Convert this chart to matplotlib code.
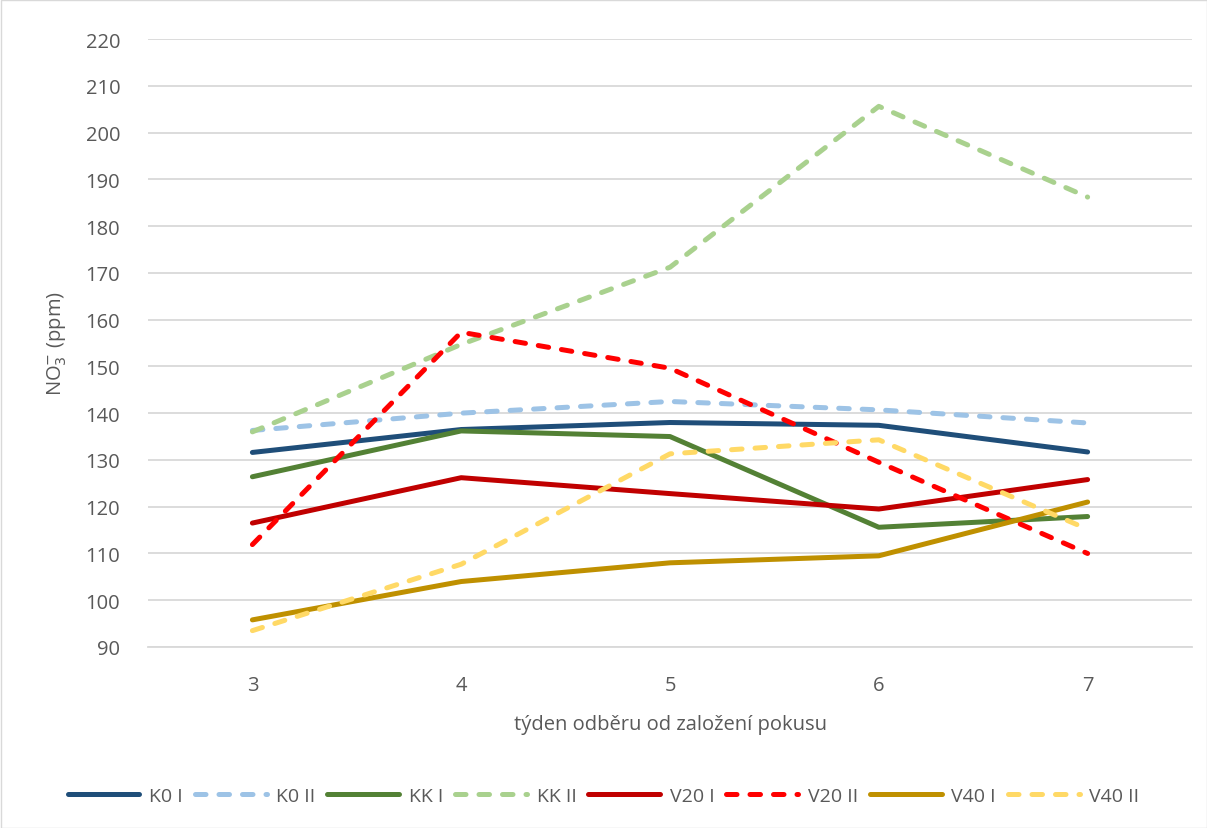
import matplotlib
matplotlib.use("Agg")
import matplotlib.pyplot as plt
from matplotlib.patches import Rectangle

weeks = [3, 4, 5, 6, 7]
k0_i   = [131.6, 136.5, 138.0, 137.4, 131.7]
k0_ii  = [136.3, 140.0, 142.5, 140.7, 137.9]
kk_i   = [126.4, 136.2, 135.0, 115.6, 117.9]
kk_ii  = [136.0, 154.7, 171.2, 205.6, 186.2]
v20_i  = [116.5, 126.2, 122.8, 119.5, 125.8]
v20_ii = [111.9, 157.3, 149.6, 129.5, 110.0]
v40_i  = [95.8, 104.0, 108.0, 109.5, 121.0]
v40_ii = [93.5, 107.7, 131.3, 134.3, 115.2]

series = [
    ("K0 I", k0_i, "#1F4E79", False),
    ("K0 II", k0_ii, "#9DC3E6", True),
    ("KK I", kk_i, "#538135", False),
    ("KK II", kk_ii, "#A9D18E", True),
    ("V20 I", v20_i, "#C00000", False),
    ("V20 II", v20_ii, "#FF0000", True),
    ("V40 I", v40_i, "#BF9000", False),
    ("V40 II", v40_ii, "#FFD966", True),
]

plt.rcParams['font.family'] = ['Open Sans', 'DejaVu Sans']
txt = "#595959"

fig = plt.figure(figsize=(12.07, 8.29), dpi=100)
ax = fig.add_axes([148/1207, 1 - 648/829, (1192-148)/1207, (648-40)/829])

for name, vals, col, dashed in series:
    if dashed:
        ax.plot(weeks, vals, color=col, lw=3.6, label=name,
                dashes=(2.1, 2.6), dash_capstyle='round', solid_capstyle='round')
    else:
        ax.plot(weeks, vals, color=col, lw=3.6, label=name,
                solid_capstyle='round', solid_joinstyle='round')

ax.set_xlim(2.5, 7.5)
ax.set_ylim(90, 220)
ax.set_yticks(range(90, 221, 10))
ax.set_xticks(weeks)
ax.grid(axis='y', color='#D9D9D9', lw=1.3)
ax.set_axisbelow(True)
for s in ['top', 'right', 'left']:
    ax.spines[s].set_visible(False)
ax.spines['bottom'].set_color('#D9D9D9')
ax.spines['bottom'].set_linewidth(1.3)
ax.tick_params(axis='both', length=0, labelsize=14.5, colors=txt)
ax.tick_params(axis='y', pad=20)
ax.tick_params(axis='x', pad=20)
ax.set_xlabel("týden odběru od založení pokusu", fontsize=14.5, color=txt, labelpad=14)
ax.set_ylabel("NO$_3^{-}$ (ppm)", fontsize=14.5, color=txt, labelpad=12)

leg = fig.legend(loc='center', bbox_to_anchor=(0.5, 1 - 797/829), ncol=8,
                 frameon=False, fontsize=14, handlelength=3.7, columnspacing=0.6,
                 handletextpad=0.5, labelcolor=txt)

fig.patches.append(Rectangle((0.5/1207, 0.5/829), 1 - 1/1207, 1 - 1/829,
                             transform=fig.transFigure, fill=False,
                             edgecolor='#D9D9D9', lw=1))

fig.savefig("out.png", dpi=100)
